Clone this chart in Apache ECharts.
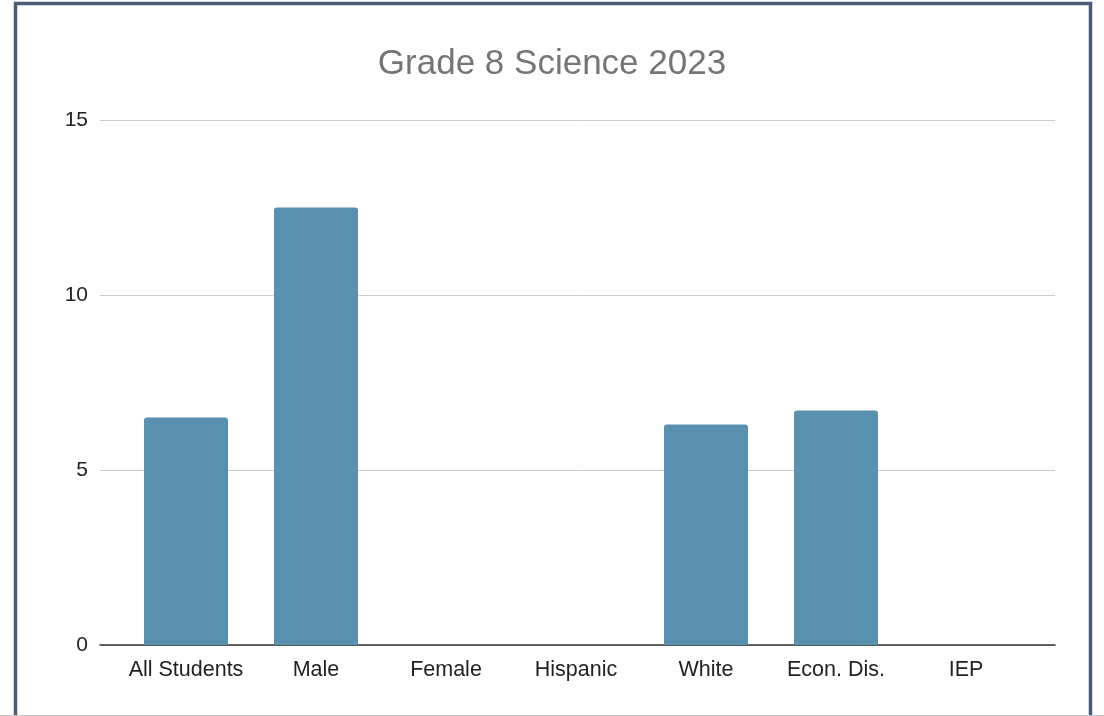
<!DOCTYPE html>
<html lang="en">
<head>
    <meta charset="UTF-8">
    <title>Grade 8 Science 2023</title>
    <script src="https://cdn.jsdelivr.net/npm/echarts@6/dist/echarts.min.js"></script>
    <style>
        html, body { margin: 0; padding: 0; background: #fff; }
        #main { width: 1104px; height: 716px; }
    </style>
</head>
<body>
<div id="main"></div>
<script>
    const groups = ['All Students', 'Male', 'Female', 'Hispanic', 'White', 'Econ. Dis.', 'IEP'];
    const scores = [6.5, 12.5, null, null, 6.3, 6.7, null];
    const yTicks = [0, 5, 10, 15];

    const myChart = echarts.init(document.getElementById('main'));
    const font = 'Liberation Sans, Arial, sans-serif';

    const option = {
        backgroundColor: '#ffffff',
        animation: false,
        title: {
            text: 'Grade 8 Science 2023',
            left: 'center',
            top: 42,
            textStyle: { fontFamily: font, fontSize: 35, fontWeight: 'normal', color: '#757575' }
        },
        graphic: [
            {
                type: 'rect',
                shape: { x: 15.5, y: 3.5, width: 1075, height: 730 },
                style: { fill: 'none', stroke: '#4b5b78', lineWidth: 3.5 },
                silent: true
            },
            {
                type: 'line',
                shape: { x1: 0, y1: 715.5, x2: 1104, y2: 715.5 },
                style: { stroke: '#c4c4c4', lineWidth: 1 },
                silent: true
            }
        ],
        grid: [
            { left: 100, right: 49, top: 120, bottom: 71 },
            { left: 121, right: 73, top: 120, bottom: 71 }
        ],
        xAxis: [
            {
                gridIndex: 0, type: 'value', min: 0, max: 1,
                axisLine: { show: true, onZero: false, lineStyle: { color: '#333', width: 1.5 } },
                axisTick: { show: false }, axisLabel: { show: false }, splitLine: { show: false }
            },
            {
                gridIndex: 1, type: 'category', data: groups,
                axisLine: { show: false }, axisTick: { show: false },
                axisLabel: { interval: 0, fontFamily: font, fontSize: 21.5, color: '#222', margin: 14 }
            }
        ],
        yAxis: [
            {
                gridIndex: 0, type: 'value', min: yTicks[0], max: yTicks[yTicks.length - 1], interval: 5,
                axisLine: { show: false }, axisTick: { show: false },
                axisLabel: { fontFamily: font, fontSize: 21, color: '#222', margin: 12 },
                splitLine: { lineStyle: { color: '#cccccc', width: 1 } }
            },
            {
                gridIndex: 1, type: 'value', min: 0, max: 15, interval: 5, show: false,
                splitLine: { show: false }
            }
        ],
        series: [{
            type: 'bar',
            xAxisIndex: 1,
            yAxisIndex: 1,
            data: scores,
            barWidth: 84,
            itemStyle: { color: '#5990af', borderRadius: [3, 3, 0, 0] }
        }]
    };

    myChart.setOption(option);
</script>
</body>
</html>
